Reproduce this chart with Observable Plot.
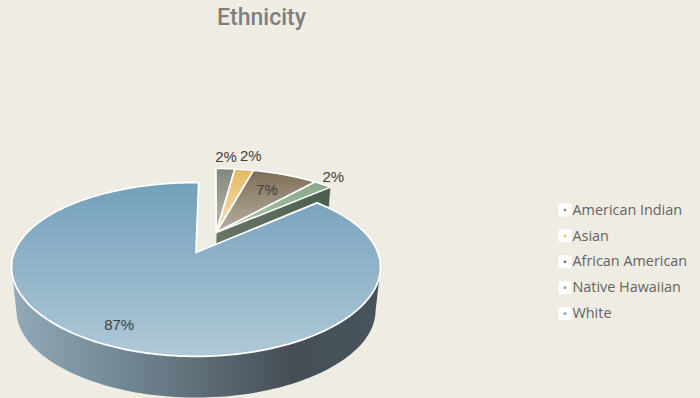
<!DOCTYPE html>
<html>
<head>
<meta charset="utf-8">
<script src="https://cdn.jsdelivr.net/npm/d3@7"></script>
<script src="https://cdn.jsdelivr.net/npm/@observablehq/plot@0.6"></script>
<style>
  html, body { margin: 0; padding: 0; background: #efece4; overflow: hidden; }
  svg { display: block; }
</style>
</head>
<body>
<div id="chart"></div>
<script>
const titleText = "Ethnicity";
const categories = ["American Indian", "Asian", "African American", "Native Hawaiian", "White"];
const shares = [2, 2, 7, 2, 87];
const labelRadius = [1.21, 1.27, 0.7, 1.15, 0.83];
const labelTurn = [-0.3, 0.1, 0.3, -1.5, 2];
const topGradients = [
  ["#84877f", "#b9b9af"],
  ["#e6b95f", "#f1e2c2"],
  ["#7d6d56", "#bab0a2"],
  ["#89a888", "#b0c3ae"],
  ["#74a0bb", "#afc8d7"]
];
const keyColors = ["#8a8d86", "#e8bb62", "#85745c", "#8cab8b", "#78a3bd"];

// Perspective of the tilted disc: depth shrinks towards the back.
const depthX = 0.17;
const depthY = 0.195;
const startTurn = 1;           // degrees the first slice is rotated by
const wallDrop = 44 / 83.6;    // wall height in projected units
const wallShrink = 0.973;      // the lower rim is slightly narrower
const pullOut = {u: 0.116, v: 0.251};  // offset of the pulled-out group

const project = (u, v, lower = false) => {
  const s = lower ? wallShrink : 1;
  return {
    px: s * u / (1 + depthX * v),
    py: s * v / (1 + depthY * v) - (lower ? wallDrop : 0)
  };
};

// Cumulative slice angles, clockwise from twelve o'clock.
let running = 0;
const slices = categories.map((name, i) => {
  const a0 = running / 100 * 360 + startTurn;
  running += shares[i];
  const a1 = running / 100 * 360 + startTurn;
  const off = name === "White" ? {u: 0, v: 0} : pullOut;
  return {name, share: shares[i], a0, a1, off, i};
});

const rad = (a) => a * Math.PI / 180;
const onDisc = (s, a, r = 1) => ({u: s.off.u + r * Math.sin(rad(a)), v: s.off.v + r * Math.cos(rad(a))});
const rimAngles = (s) => {
  const n = Math.max(4, Math.ceil((s.a1 - s.a0) / 1.5));
  return d3.range(n + 1).map((k) => s.a0 + (s.a1 - s.a0) * k / n);
};
const rimAt = (s, angles, lower = false) => angles.map((a) => {
  const p = onDisc(s, a);
  return project(p.u, p.v, lower);
});
const closed = (pts) => [...pts, pts[0]];
const apex = (s, lower = false) => project(s.off.u, s.off.v, lower);

const wedge = (s) => closed([apex(s), ...rimAt(s, rimAngles(s))]);
// Only the front of the rim is visible; its ends are the silhouette of the wall.
const outerWall = (s) => {
  const front = rimAngles(s).filter((a) => Math.cos(rad(a)) <= -depthX);
  return closed([...rimAt(s, front), ...rimAt(s, front, true).reverse()]);
};
const sideWall = (s) => {
  const e = onDisc(s, s.a1);
  return closed([apex(s), project(e.u, e.v), project(e.u, e.v, true), apex(s, true)]);
};

const white = slices[4];
const pulled = slices.slice(0, 4);

const labels = slices.map((s, i) => {
  const p = onDisc(s, (s.a0 + s.a1) / 2 + labelTurn[i], labelRadius[i]);
  return {...project(p.u, p.v), text: s.share + "%"};
});

// Legend rows sit on the same projected plane, to the right of the pie.
const legendRows = categories.map((name, i) => ({
  name, px: 376.5 / 181.8, py: (42.5 - i * 25.9) / 83.6, color: keyColors[i]
}));

const gradientDefs = () => {
  const defs = d3.create("svg:defs");
  topGradients.forEach(([from, to], i) => {
    const g = defs.append("linearGradient").attr("id", `top${i}`)
      .attr("x1", 0).attr("y1", 0).attr("x2", 0).attr("y2", 1);
    g.append("stop").attr("offset", 0).attr("stop-color", from);
    g.append("stop").attr("offset", 1).attr("stop-color", to);
  });
  const wall = defs.append("linearGradient").attr("id", "wall");
  [[0, "#92aab8"], [0.33, "#6f8490"], [0.76, "#464e55"], [1, "#46545b"]].forEach(([o, c]) =>
    wall.append("stop").attr("offset", o).attr("stop-color", c));
  const side = defs.append("linearGradient").attr("id", "side");
  [[0, "#69776b"], [1, "#4c5d4e"]].forEach(([o, c]) =>
    side.append("stop").attr("offset", o).attr("stop-color", c));
  return defs.node();
};

const face = (pts, fill, stroke = "#ffffff", strokeWidth = 1.6) =>
  Plot.line(pts, {x: "px", y: "py", fill, stroke, strokeWidth, strokeLinejoin: "round"});

const labelFont = "'Liberation Sans', sans-serif";
const legendFont = "'Open Sans', sans-serif";

const chart = Plot.plot({
  width: 700,
  height: 398,
  margin: 0,
  x: {domain: [-195.5 / 181.8, 504.5 / 181.8], range: [0, 700], axis: null},
  y: {domain: [-146 / 83.6, 252 / 83.6], range: [398, 0], axis: null},
  style: {background: "#efece4", overflow: "hidden"},
  marks: [
    gradientDefs,
    face(sideWall(pulled[3]), "url(#side)", "#efece4", 0.5),
    ...pulled.map((s) => face(wedge(s), `url(#top${s.i})`)),
    face(outerWall(white), "url(#wall)", "none", 0),
    face(wedge(white), "url(#top4)", "#ffffff", 1.8),
    Plot.text(labels, {
      x: "px", y: "py", text: "text", fontSize: 15, fontFamily: labelFont, fill: "#404040"
    }),
    Plot.text([titleText], {
      frameAnchor: "top-left", dx: 261, dy: 8, textAnchor: "middle", lineAnchor: "top",
      fontSize: 23, fontWeight: 500, fontFamily: "Roboto, sans-serif", fill: "#7f7f7f"
    }),
    Plot.dot(legendRows, {
      x: "px", y: "py", symbol: "square", r: 5.6, fill: "#ffffff", stroke: "#ffffff",
      strokeWidth: 3, strokeLinejoin: "round", dx: -7.5
    }),
    Plot.dot(legendRows, {
      x: "px", y: "py", symbol: "square", r: 1.4, fill: "color", dx: -7.5
    }),
    Plot.text(legendRows, {
      x: "px", y: "py", text: "name", textAnchor: "start", fontSize: 14.4,
      fontFamily: legendFont, fill: "#636363"
    })
  ]
});
document.getElementById("chart").appendChild(chart);
</script>
</body>
</html>
